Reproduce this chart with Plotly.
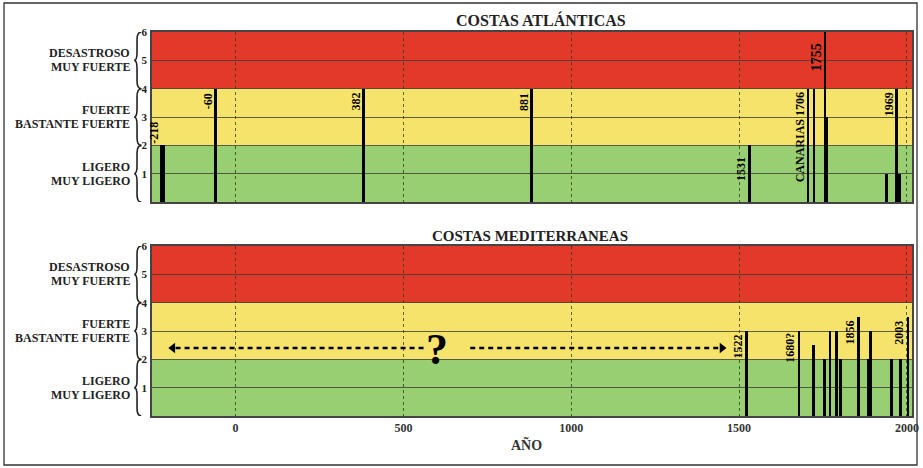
import plotly.graph_objects as go

# ---------------- data ----------------
atl_years = [-218, -60, 382, 881, 1531, 1704, 1722, 1755, 1760, 1939, 1969, 1976]
atl_values = [2, 4, 4, 4, 2, 4, 4, 6, 3, 1, 4, 1]
atl_label_years = [-218, -60, 382, 881, 1531, 1704, 1755, 1969]
atl_label_texts = ["-218", "-60", "382", "881", "1531", "CANARIAS 1706", "1755", "1969"]

med_years = [1522, 1678, 1722, 1755, 1771, 1790, 1803, 1856, 1886, 1891, 1953, 1980, 2003]
med_values = [3, 3, 2.5, 2, 3, 3, 2, 3.5, 2, 3, 2, 2, 3.5]
med_label_years = [1522, 1678, 1856, 2003]
med_label_texts = ["1522", "1680?", "1856", "2003"]

band_limits = [0, 2, 4, 6]
band_names = [["LIGERO", "MUY LIGERO"], ["FUERTE", "BASTANTE FUERTE"], ["DESASTROSO", "MUY FUERTE"]]
x_ticks = [0, 500, 1000, 1500, 2000]
y_ticks = [1, 2, 3, 4, 5, 6]
arrow_left_x = [560, -187]
arrow_right_x = [699, 1449]
arrow_y = 2.4
question_x = 601
question_y = 2.33

# ---------------- styles ----------------
SERIF = "Liberation Serif"
band_colors = ["#98cf72", "#f6e36c", "#e23a2a"]
atl_widths = [15, 8, 8, 8, 8, 6, 6, 7, 11, 7, 7, 12]
med_widths = [8, 8, 8, 8, 8, 8, 8, 8, 12, 8, 8, 8, 8]
atl_label_dy = {-218: None, 1755: -10, 1531: -11}
med_label_dy = {1678: -1}
atl_label_size = {1755: 14}

fig = go.Figure()

fig.add_trace(go.Bar(x=atl_years, y=atl_values, width=atl_widths,
                     marker=dict(color="black", line=dict(width=0)),
                     xaxis="x", yaxis="y", showlegend=False))
fig.add_trace(go.Bar(x=med_years, y=med_values, width=med_widths,
                     marker=dict(color="black", line=dict(width=0)),
                     xaxis="x2", yaxis="y2", showlegend=False))

# dashed arrows with "?"
for xs, sym in [(arrow_left_x, "triangle-left"), (arrow_right_x, "triangle-right")]:
    fig.add_trace(go.Scatter(x=xs, y=[arrow_y, arrow_y], mode="lines",
                             line=dict(color="black", width=2.5, dash="5px,4px"),
                             xaxis="x2", yaxis="y2", showlegend=False, hoverinfo="skip"))
    fig.add_trace(go.Scatter(x=[xs[1]], y=[arrow_y], mode="markers",
                             marker=dict(symbol=sym, size=9, color="black"),
                             xaxis="x2", yaxis="y2", showlegend=False, hoverinfo="skip"))

annotations = []
shapes = []

for yref, xref in [("y", "x"), ("y2", "x2")]:
    for i in range(3):
        shapes.append(dict(type="rect", xref=xref + " domain", yref=yref,
                           x0=0, x1=1, y0=band_limits[i], y1=band_limits[i + 1],
                           fillcolor=band_colors[i], line=dict(width=0), layer="below"))
        lo, hi = band_limits[i], band_limits[i + 1]
        mid = (lo + hi) / 2
        xv, xt, xe = -0.0197, -0.0235, -0.0140
        d = 0.28
        path = (f"M {xe},{lo} Q {xv},{lo} {xv},{lo + d} L {xv},{mid - d} "
                f"Q {xv},{mid} {xt},{mid} Q {xv},{mid} {xv},{mid + d} "
                f"L {xv},{hi - d} Q {xv},{hi} {xe},{hi}")
        shapes.append(dict(type="path", xref="paper", yref=yref, path=path,
                           line=dict(color="#222", width=1.6)))
        for j, (txt, sh) in enumerate(zip(band_names[i], [7, -7])):
            annotations.append(dict(text=txt, xref="paper", yref=yref, x=-0.0265, y=mid,
                                    xanchor="right", yanchor="middle", yshift=sh,
                                    showarrow=False,
                                    font=dict(family=SERIF, size=12, color="#222", weight="bold")))

for yr, txt in zip(atl_label_years, atl_label_texts):
    val = atl_values[atl_years.index(yr)]
    if yr in atl_label_dy and atl_label_dy[yr] is None:
        ya, dy = "bottom", 1
    else:
        ya, dy = "top", atl_label_dy.get(yr, -3)
    annotations.append(dict(text=txt, x=yr, y=val, xref="x", yref="y", textangle=-90,
                            xanchor="right", yanchor=ya, xshift=0, yshift=dy, showarrow=False,
                            borderpad=0,
                            font=dict(family=SERIF, size=atl_label_size.get(yr, 12),
                                      color="black", weight="bold")))
for yr, txt in zip(med_label_years, med_label_texts):
    val = med_values[med_years.index(yr)]
    annotations.append(dict(text=txt, x=yr, y=val, xref="x2", yref="y2", textangle=-90,
                            xanchor="right", yanchor="top", xshift=-1,
                            yshift=med_label_dy.get(yr, -3), showarrow=False, borderpad=0,
                            font=dict(family=SERIF, size=12, color="black", weight="bold")))

annotations.append(dict(text="?", x=question_x, y=question_y, xref="x2", yref="y2",
                        showarrow=False, xanchor="center", yanchor="middle",
                        font=dict(family=SERIF, size=44, color="black", weight="bold")))

annotations.append(dict(text="COSTAS ATLÁNTICAS", xref="paper", yref="paper", x=0.512, y=1.031,
                        xanchor="center", yanchor="middle", showarrow=False,
                        font=dict(family=SERIF, size=16, color="#222", weight="bold")))
annotations.append(dict(text="COSTAS MEDITERRANEAS", xref="paper", yref="paper", x=0.498, y=0.469,
                        xanchor="center", yanchor="middle", showarrow=False,
                        font=dict(family=SERIF, size=15, color="#222", weight="bold")))
annotations.append(dict(text="AÑO", xref="paper", yref="paper", x=0.493, y=-0.0755,
                        xanchor="center", yanchor="middle", showarrow=False,
                        font=dict(family=SERIF, size=14, color="#333", weight="bold")))

# outer frame
shapes.append(dict(type="rect", xref="paper", yref="paper", x0=-0.1947, x1=1.0066,
                   y0=-0.1276, y1=1.0755, line=dict(color="#333", width=1.3)))

xaxis_common = dict(range=[-249, 2015], tickvals=x_ticks, showgrid=True, automargin=False,
                    gridcolor="rgba(40,55,30,0.75)", griddash="dot", gridwidth=1,
                    zeroline=False, showline=True, mirror=True, linecolor="#444", linewidth=1.5,
                    ticks="", tickfont=dict(family=SERIF, size=12, color="#333", weight="bold"))
yaxis_common = dict(range=[0, 6], tickvals=y_ticks, showgrid=True, automargin=False,
                    gridcolor="rgba(60,60,45,0.8)", gridwidth=1, zeroline=False,
                    showline=True, mirror=True, linecolor="#444", linewidth=1.5,
                    ticks="", ticklabelstandoff=1,
                    tickfont=dict(family=SERIF, size=11, color="#222", weight="bold"))

fig.update_layout(
    width=923, height=468,
    margin=dict(l=152, r=11, t=32, b=52),
    paper_bgcolor="white", plot_bgcolor="white",
    barmode="overlay", bargap=0,
    xaxis=dict(**xaxis_common, domain=[0, 1], anchor="y", showticklabels=False),
    yaxis=dict(**yaxis_common, domain=[0.557, 1], anchor="x"),
    xaxis2=dict(**xaxis_common, domain=[0, 1], anchor="y2"),
    yaxis2=dict(**yaxis_common, domain=[0, 0.4427], anchor="x2"),
    shapes=shapes, annotations=annotations,
)

fig.write_html("out.html", config={"displayModeBar": False},
               post_script="document.body.style.margin='0';document.body.style.overflow='hidden';")
